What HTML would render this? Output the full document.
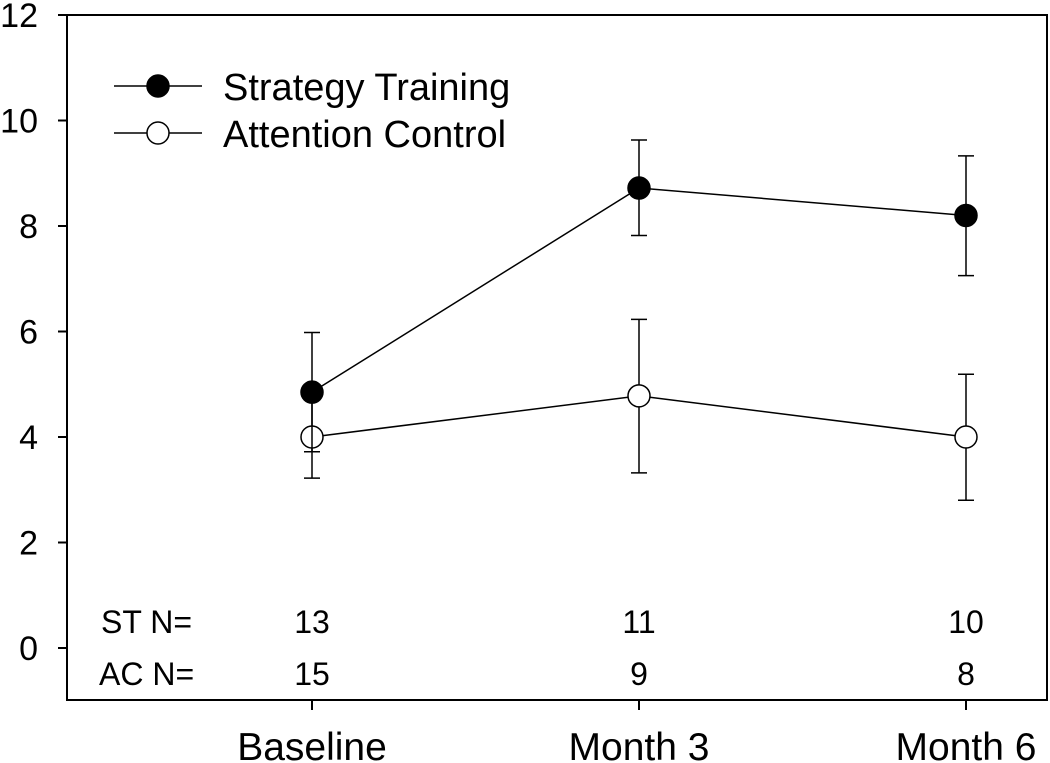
<!DOCTYPE html>
<html><head><meta charset="utf-8"><style>body{margin:0;background:#fff}svg{display:block;font-family:"Liberation Sans",sans-serif}</style></head>
<body>
<svg id="chart" width="1050" height="763">
<rect x="67" y="15" width="980" height="685" fill="none" stroke="#000" stroke-width="2"/>
<g id="g"></g>
</svg>
<script>
const categories=["Baseline","Month 3","Month 6"];
const stValues=[4.85,8.72,8.2];
const stLow=[3.72,7.82,7.06];
const stHigh=[5.98,9.63,9.33];
const acValues=[4.0,4.78,4.0];
const acLow=[3.22,3.32,2.8];
const acHigh=[4.78,6.23,5.19];
const stN=["13","11","10"];
const acN=["15","9","8"];
const yTicks=[0,2,4,6,8,10,12];
const NS="http://www.w3.org/2000/svg";
const g=document.getElementById('g');
const xs=i=>312+i*327;
const ys=v=>648-v*52.75;
function mk(t,a,txt){const e=document.createElementNS(NS,t);for(const k in a)e.setAttribute(k,a[k]);if(txt!==undefined)e.textContent=txt;g.appendChild(e);return e;}
yTicks.forEach(v=>{
 const l=mk('line',{x1:58,x2:67,y1:ys(v),y2:ys(v),stroke:'#000','stroke-width':2});
 
 
 const t=mk('text',{x:38,y:ys(v)+12,'font-size':34,'text-anchor':'end'},String(v));
 
 
});
categories.forEach((c,i)=>{
 const l=mk('line',{x1:xs(i),x2:xs(i),y1:700,y2:710,stroke:'#000','stroke-width':2});
 
 
 const t=mk('text',{x:xs(i),y:760,'font-size':39,'text-anchor':'middle'},c);
 
 
 const a=mk('text',{x:xs(i),y:633,'font-size':32,'text-anchor':'middle'},stN[i]);
 
 
 const b=mk('text',{x:xs(i),y:685,'font-size':32,'text-anchor':'middle'},acN[i]);
 
 
});
const s1=mk('text',{x:101,y:633,'font-size':32},'ST N=');


const s2=mk('text',{x:99,y:685,'font-size':32},'AC N=');


function series(vals,lo,hi,fill,name){
 for(let i=0;i<vals.length;i++){
  const e=mk('path',{d:`M${xs(i)},${ys(lo[i])}V${ys(hi[i])}M${xs(i)-8},${ys(lo[i])}h16M${xs(i)-8},${ys(hi[i])}h16`,stroke:'#000','stroke-width':1.5,fill:'none'});
  
  
 }
 const p=mk('polyline',{points:vals.map((v,i)=>xs(i)+','+ys(v)).join(' '),fill:'none',stroke:'#000','stroke-width':1.5});
 
 
 vals.forEach((v,i)=>{
  const c=mk('circle',{cx:xs(i),cy:ys(v),r:11,fill:fill,stroke:'#000','stroke-width':1.5});
  
  
 });
}
series(acValues,acLow,acHigh,'#fff','attention-control');
series(stValues,stLow,stHigh,'#000','strategy-training');
[['Strategy Training','#000',86],['Attention Control','#fff',133]].forEach(([n,f,y])=>{
 const l=mk('line',{x1:114,x2:202,y1:y,y2:y,stroke:'#000','stroke-width':1.5});
 
 
 const c=mk('circle',{cx:158,cy:y,r:11,fill:f,stroke:'#000','stroke-width':1.5});
 
 
 const t=mk('text',{x:223,y:y+14,'font-size':38},n);
 
 
});
</script>
</body></html>
